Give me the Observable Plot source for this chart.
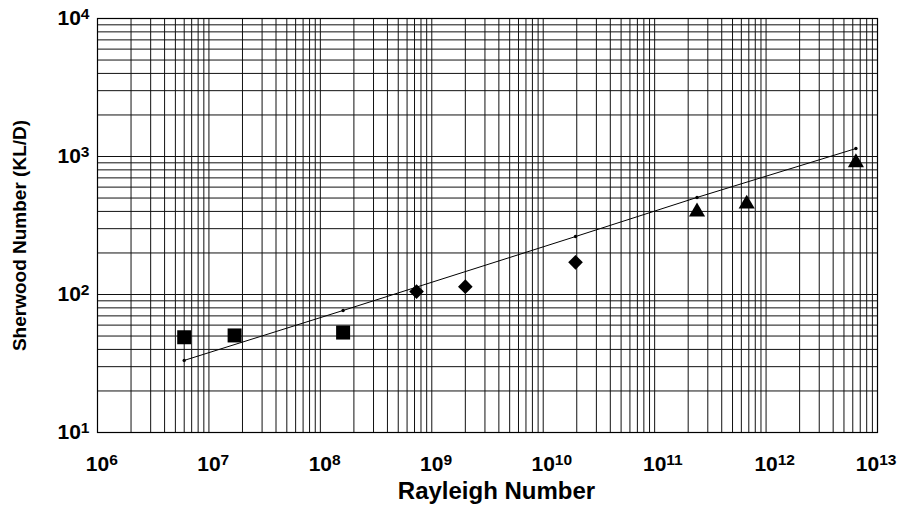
<!DOCTYPE html>
<html><head><meta charset="utf-8">
<script src="https://cdn.jsdelivr.net/npm/d3@7"></script>
<script src="https://cdn.jsdelivr.net/npm/@observablehq/plot@0.6"></script>
<style>
body{margin:0;background:#fff}
svg{font-family:"Liberation Sans",Arial,Helvetica,sans-serif}
</style>
</head><body><div id="chart"></div>
<script>
// Square markers (low Rayleigh numbers)
const squareRa = [6.0e6, 1.7e7, 1.6e8];
const squareSh = [49, 50.5, 53];
// Diamond markers
const diamondRa = [7.3e8, 2.0e9, 1.95e10];
const diamondSh = [105, 114, 171];
// Triangle markers (high Rayleigh numbers)
const triangleRa = [2.4e11, 6.7e11, 6.4e12];
const triangleSh = [398, 453, 905];
// Correlation line with small dots
const fitRa = [6.0e6, 1.6e8, 1.95e10, 2.4e11, 6.4e12];
const fitSh = [33.3, 76.6, 263, 505, 1142];
// Axis ticks (powers of ten)
const xExponents = [6, 7, 8, 9, 10, 11, 12, 13];
const yExponents = [1, 2, 3, 4];
const xTitle = "Rayleigh Number";
const yTitle = "Sherwood Number (KL/D)";

const zip = (xs, ys) => xs.map((x, i) => ({ra: x, sh: ys[i]}));
const squares = zip(squareRa, squareSh);
const diamonds = zip(diamondRa, diamondSh);
const triangles = zip(triangleRa, triangleSh);
const fit = zip(fitRa, fitSh);

const xTicks = xExponents.map(e => Math.pow(10, e));
const yTicks = yExponents.map(e => Math.pow(10, e));
const logGrid = exps => {
  const g = [];
  for (let i = 0; i < exps.length - 1; i++)
    for (let m = 1; m <= 9; m++) g.push(m * Math.pow(10, exps[i]));
  g.push(Math.pow(10, exps[exps.length - 1]));
  return g;
};
const xGrid = logGrid(xExponents);
const yGrid = logGrid(yExponents);
const fmt = d => "10^" + Math.round(Math.log10(d));

const chart = Plot.plot({
  width: 903, height: 515,
  marginLeft: 97, marginRight: 26, marginTop: 18, marginBottom: 83,
  style: {fontFamily: '"Liberation Sans", Arial, sans-serif', fontWeight: "bold", fontSize: "21px", color: "#000", background: "#fff"},
  x: {type: "log", domain: [1e6, 1e13], label: null},
  y: {type: "log", domain: [10, 1e4], label: null},
  marks: [
    Plot.ruleX(xGrid, {stroke: "#111", strokeWidth: 1}),
    Plot.ruleY(yGrid, {stroke: "#111", strokeWidth: 1}),
    Plot.frame({stroke: "#000", strokeWidth: 1.2}),
    Plot.axisX(xTicks, {tickFormat: fmt, tickSize: 0, tickPadding: 24, label: null}),
    Plot.axisY(yTicks, {tickFormat: fmt, tickSize: 0, tickPadding: 8, label: null}),
    Plot.line(fit, {x: "ra", y: "sh", stroke: "#000", strokeWidth: 1}),
    Plot.dot(fit, {x: "ra", y: "sh", r: 1.7, fill: "#000", stroke: "none"}),
    Plot.dot(squares, {x: "ra", y: "sh", symbol: "square", r: 7.9, fill: "#000", stroke: "none"}),
    Plot.dot(diamonds, {x: "ra", y: "sh", symbol: "diamond2", r: 6.6, fill: "#000", stroke: "none"}),
    Plot.dot(triangles, {x: "ra", y: "sh", symbol: "triangle", r: 6.0, fill: "#000", stroke: "none"}),
    Plot.text([xTitle], {frameAnchor: "bottom", textAnchor: "middle", dx: 9, dy: 66, fontSize: 24, fontWeight: "bold", fill: "#000"}),
    Plot.text([yTitle], {frameAnchor: "left", textAnchor: "middle", dx: -78, dy: 10, rotate: -90, fontSize: 19, fontWeight: "bold", fill: "#000"})
  ]
});

// Render tick labels as 10 with a superscript exponent
const sup = (text, anchorStart, extraDx) => {
  const [base, exp] = text.textContent.split("^");
  if (exp === undefined) return;
  text.textContent = base;
  const t = document.createElementNS("http://www.w3.org/2000/svg", "tspan");
  t.setAttribute("dy", "-0.42em");
  t.setAttribute("font-size", "0.74em");
  t.textContent = exp;
  text.appendChild(t);
  if (anchorStart) {
    text.setAttribute("text-anchor", "start");
    text.setAttribute("dx", (-11.7 + (extraDx || 0)) + "px");
  }
};
const xLabels = chart.querySelectorAll('g[aria-label="x-axis tick label"] text');
xLabels.forEach((t, i) => sup(t, true, i === xLabels.length - 1 ? -10 : 0));
chart.querySelectorAll('g[aria-label="y-axis tick label"] text').forEach(t => sup(t, false));

document.getElementById("chart").appendChild(chart);
</script>
</body></html>
